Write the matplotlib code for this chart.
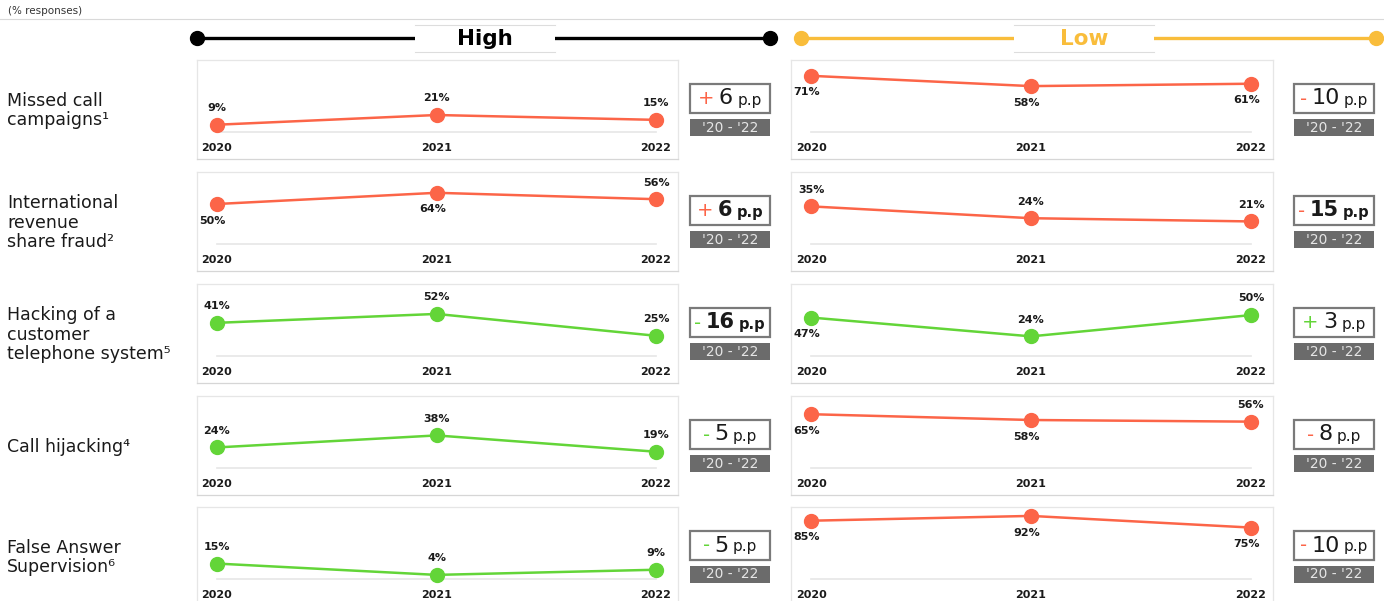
import matplotlib.pyplot as plt
from matplotlib.patches import Rectangle
from matplotlib.offsetbox import TextArea, HPacker, AnnotationBbox

W, H = 1384, 601

years = [2020, 2021, 2022]
threats = ['Missed call\ncampaigns¹',
           'International\nrevenue\nshare fraud²',
           'Hacking of a\ncustomer\ntelephone system⁵',
           'Call hijacking⁴',
           'False Answer\nSupervision⁶']
high_values = [[9, 21, 15], [50, 64, 56], [41, 52, 25], [24, 38, 19], [15, 4, 9]]
low_values = [[71, 58, 61], [35, 24, 21], [47, 24, 50], [65, 58, 56], [85, 92, 75]]
high_change = [6, 6, -16, -5, -5]
low_change = [-10, -15, 3, -8, -10]
period_label = "'20 - '22"
levels = ['High', 'Low']

RED = '#FC6548'
GREEN = '#63D538'
GOLD = '#F9BD3B'

# per panel styling: line colour, top of y range, label above/below point, bold delta
high_style = dict(color=[RED, RED, GREEN, GREEN, GREEN],
                  ytop=[89, 90, 89, 84, 70],
                  pos=['aaa', 'bba', 'aaa', 'aaa', 'aaa'],
                  bold=[False, True, True, False, False])
low_style = dict(color=[RED, RED, GREEN, RED, RED],
                 ytop=[91, 67, 88, 87, 105],
                 pos=['bbb', 'aaa', 'baa', 'bba', 'bbb'],
                 bold=[False, True, False, False, False])

row_top = [60, 172, 284, 396, 507]
panel_h = 99
base_px = 72   # distance from panel top to the zero line

plt.rcParams['font.family'] = ['DejaVu Sans']


def px_rect(x, y, w, h):
    return [x / W, 1 - (y + h) / H, w / W, h / H]


def draw_panel(fig, x0, w, top, vals, color, ytop, pos):
    ax = fig.add_axes(px_rect(x0, top, w, panel_h))
    lo = -ytop * (panel_h - base_px) / base_px
    ax.set_ylim(lo, ytop)
    ax.set_xlim(2020 - 20 / 219.5, 2022 + 22 / 219.5)
    ax.set_xticks([])
    ax.set_yticks([])
    for s in ax.spines.values():
        s.set_color('#e6e6e6')
        s.set_linewidth(0.9)
    ax.spines['bottom'].set_color('#d6d6d6')
    ax.plot([years[0], years[-1]], [0, 0], color='#e6e6e6', lw=1.2, zorder=1)
    ax.plot(years, vals, color=color, lw=1.8, marker='o', ms=10, zorder=3)
    for yr, v, p in zip(years, vals, pos):
        dy = 12 if p == 'a' else -12
        dx = 0 if p == 'a' else -3
        ax.annotate(f'{v}%', (yr, v), xytext=(dx, dy), textcoords='offset points',
                    ha='center', va='center', fontsize=8, fontweight='bold',
                    color='#1a1a1a')
        ax.text(yr, 0.11, str(yr), transform=ax.get_xaxis_transform(),
                ha='center', va='center', fontsize=8, fontweight='bold',
                color='#1a1a1a')
    return ax


def draw_change(ax0, xc, top, change, color, bold):
    ax0.add_patch(Rectangle((xc - 40, top + 24), 80, 29, facecolor='white',
                            edgecolor='#7a7a7a', lw=1.6))
    ax0.add_patch(Rectangle((xc - 40, top + 59), 80, 17, facecolor='#6b6b6b',
                            edgecolor='none'))
    ax0.text(xc, top + 67.5, period_label, ha='center', va='center',
             fontsize=10, color='#e6e6e6')
    wt = 'bold' if bold else 'normal'
    sign = '+' if change > 0 else '-'
    num_size = 15 if bold else 16
    pp_size = 10.5 if bold else 11
    parts = [TextArea(sign, textprops=dict(color=color, fontsize=14)),
             TextArea(str(abs(change)), textprops=dict(color='#1a1a1a',
                                                       fontsize=num_size,
                                                       fontweight=wt)),
             TextArea('p.p', textprops=dict(color='#1a1a1a', fontsize=pp_size,
                                            fontweight=wt))]
    pack = HPacker(children=parts, align='baseline', pad=0, sep=3)
    ab = AnnotationBbox(pack, (xc, top + 38.5), xycoords='data', frameon=False,
                        box_alignment=(0.5, 0.5))
    ax0.add_artist(ab)


fig = plt.figure(figsize=(W / 100, H / 100), dpi=100)
ax0 = fig.add_axes([0, 0, 1, 1])
ax0.set_xlim(0, W)
ax0.set_ylim(H, 0)
ax0.axis('off')

ax0.text(8, 11, '(% responses)', ha='left', va='center', fontsize=7.5, color='#333333')
ax0.plot([0, W], [19, 19], color='#d9d9d9', lw=0.8)

# level headers
for (x1, x2, bx, label, col) in [(197, 770, 415, levels[0], 'black'),
                                 (801, 1376, 1014, levels[1], GOLD)]:
    ax0.plot([x1, x2], [38, 38], color=col, lw=2.4, marker='o', ms=10,
             solid_capstyle='butt')
    ax0.add_patch(Rectangle((bx, 25), 140, 27, facecolor='white', edgecolor='none',
                            zorder=3))
    ax0.plot([bx, bx + 140], [25, 25], color='#dddddd', lw=0.8, zorder=4)
    ax0.plot([bx, bx + 140], [52, 52], color='#dddddd', lw=0.8, zorder=4)
    ax0.text(bx + 70, 39, label, ha='center', va='center', fontsize=15.5,
             fontweight='bold', color=col, zorder=5)

for i, name in enumerate(threats):
    top = row_top[i]
    ax0.text(7, top + panel_h / 2 + 1, name, ha='left', va='center', fontsize=12.5,
             color='#1a1a1a', linespacing=1.1)
    draw_panel(fig, 197, 481, top, high_values[i], high_style['color'][i],
               high_style['ytop'][i], high_style['pos'][i])
    draw_panel(fig, 791, 482, top, low_values[i], low_style['color'][i],
               low_style['ytop'][i], low_style['pos'][i])
    draw_change(ax0, 730, top, high_change[i], high_style['color'][i],
                high_style['bold'][i])
    draw_change(ax0, 1334, top, low_change[i], low_style['color'][i],
                low_style['bold'][i])

fig.savefig('out.png', dpi=100)
